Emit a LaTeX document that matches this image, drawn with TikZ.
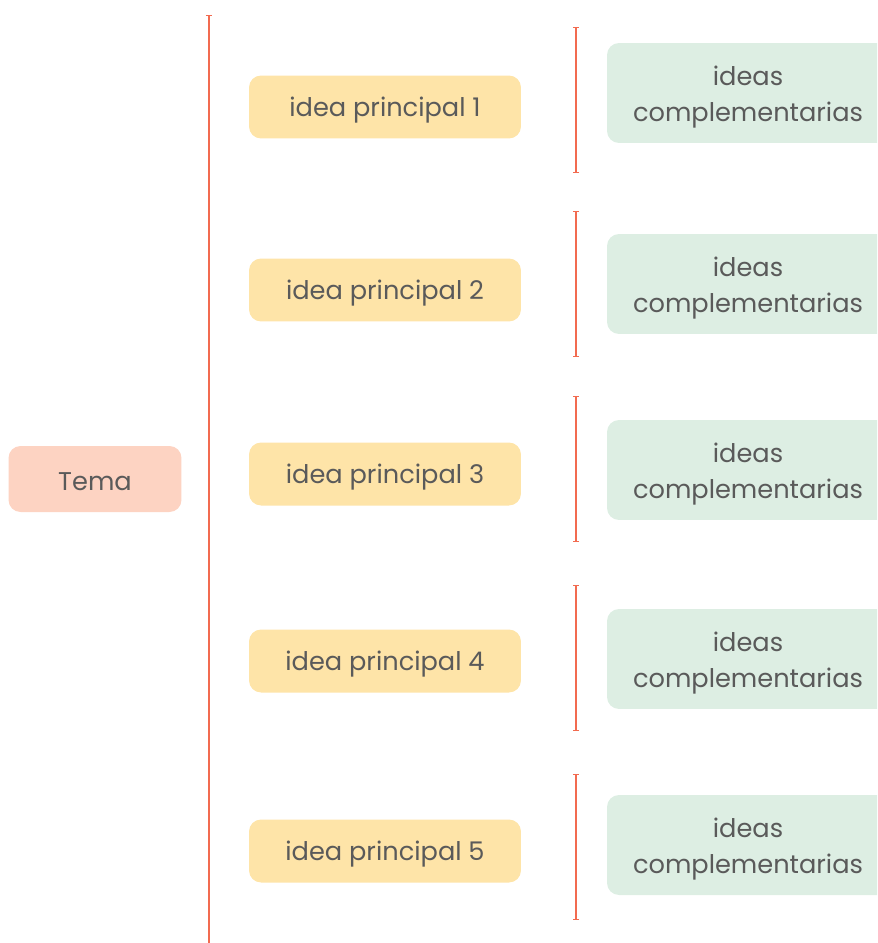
\documentclass[tikz,border=0pt]{standalone}
\usepackage{fontspec}
\setmainfont{Poppins}
\usepackage{tikz}
\usetikzlibrary{
	arrows.meta,
	calc,
	positioning,
}
\definecolor{linered}{HTML}{F26B50}
\definecolor{temafill}{HTML}{FDD3C2}
\definecolor{ideafill}{HTML}{FEE4A8}
\definecolor{compfill}{HTML}{DDEEE3}
\definecolor{textgray}{HTML}{5A5A5A}
\newcommand{\topstrut}{\rule{0pt}{15.7pt}}
\tikzset{box node/.style={
	rounded corners=0.24cm,
	inner sep=0mm,
	text=textgray,
	font=\fontsize{14.6}{20.5}\selectfont,
	align=center,
}}
\tikzset{tema node/.style={
	box node,
	fill=temafill,
	minimum width=3.46cm,
	minimum height=1.32cm,
	text height=13.6pt,
}}
\tikzset{idea node/.style={
	box node,
	fill=ideafill,
	minimum width=5.44cm,
	minimum height=1.26cm,
	text height=14.1pt,
}}
\tikzset{comp node/.style={
	box node,
	fill=compfill,
	minimum width=5.64cm,
	minimum height=2cm,
}}
\tikzset{bracket/.style={
	linered,
	line width=1.1pt,
	{Bar[width=3.5pt,line width=0.8pt]}-{Bar[width=3.5pt,line width=0.8pt]},
}}

\begin{document}
\begin{tikzpicture}[x=0.02cm,y=-0.02cm]
\useasboundingbox (0,0) rectangle (877,943);
\clip (0,0) rectangle (877,943);

\node[tema node](tema) at(95,479) {Tema};

% main line
\coordinate (top) at (209,15);
\coordinate (bottom) at (209,960);
\draw[linered, line width=1.1pt, {Bar[width=3.5pt,line width=0.8pt]}-] (top) -- (bottom);

\foreach[count=\i] \yp \yb \yc in {
	107/27/93
	,290/211/284
	,474/396/470
	,661/585/659
	,851/774/845
}{
	\node[idea node](p\i) at(385,\yp) {idea principal \i};
	\node[comp node](c\i) at(748,\yc) {\topstrut ideas\\complementarias};
	\coordinate (b\i) at (576,\yb);
	\coordinate (e\i) at (576,\yb+146);
	\draw[bracket] (b\i) -- (e\i);
}

\end{tikzpicture}
\end{document}
